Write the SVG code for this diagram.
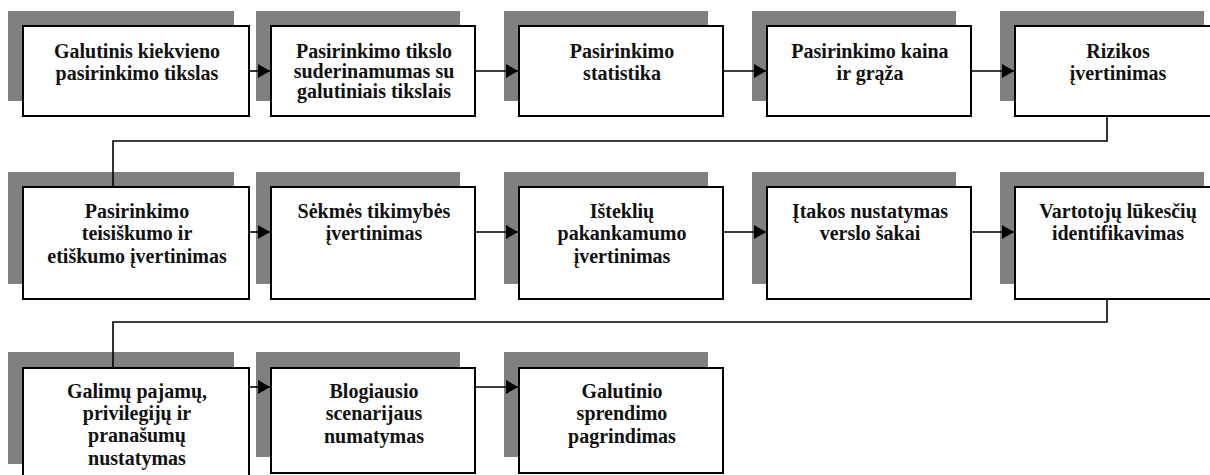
<svg xmlns="http://www.w3.org/2000/svg" width="1210" height="475" viewBox="0 0 1210 475">
  <style>
    .shadow { fill: #808080; }
    .box { fill: #ffffff; stroke: #000000; stroke-width: 2; }
    .lbl { font-family: 'Liberation Serif', 'Times New Roman', serif; font-weight: bold; font-size: 20px; fill: #111111; text-anchor: middle; }
    .link { fill: none; stroke: #000000; stroke-width: 1.6; }
  </style>
  <defs>
    <marker id="arrow" viewBox="0 0 12 14" refX="12" refY="7" markerWidth="12" markerHeight="14" markerUnits="userSpaceOnUse" orient="auto">
      <path d="M0,0 L12,7 L0,14 Z" fill="#000000"/>
    </marker>
  </defs>

  <rect width="1210" height="475" fill="#ffffff"/>

  <!-- Row 1 -->
  <g id="n1">
    <rect class="shadow" x="8" y="11" width="226" height="90"/>
    <rect class="box" x="23" y="26" width="226" height="90"/>
    <text class="lbl" x="137" y="58">Galutinis kiekvieno</text>
    <text class="lbl" x="137" y="80">pasirinkimo tikslas</text>
  </g>
  <g id="n2">
    <rect class="shadow" x="256" y="11" width="204" height="90"/>
    <rect class="box" x="271" y="26" width="204" height="90"/>
    <text class="lbl" x="374" y="58">Pasirinkimo tikslo</text>
    <text class="lbl" x="374" y="78">suderinamumas su</text>
    <text class="lbl" x="374" y="98">galutiniais tikslais</text>
  </g>
  <g id="n3">
    <rect class="shadow" x="504" y="11" width="204" height="90"/>
    <rect class="box" x="519" y="26" width="204" height="90"/>
    <text class="lbl" x="622" y="58">Pasirinkimo</text>
    <text class="lbl" x="622" y="80">statistika</text>
  </g>
  <g id="n4">
    <rect class="shadow" x="752" y="11" width="204" height="90"/>
    <rect class="box" x="767" y="26" width="204" height="90"/>
    <text class="lbl" x="870" y="58">Pasirinkimo kaina</text>
    <text class="lbl" x="870" y="80">ir grąža</text>
  </g>
  <g id="n5">
    <rect class="shadow" x="1000" y="11" width="204" height="90"/>
    <rect class="box" x="1015" y="26" width="204" height="90"/>
    <text class="lbl" x="1118" y="58">Rizikos</text>
    <text class="lbl" x="1118" y="80">įvertinimas</text>
  </g>

  <!-- Row 2 -->
  <g id="n6">
    <rect class="shadow" x="8" y="172" width="226" height="112"/>
    <rect class="box" x="23" y="187" width="226" height="112"/>
    <text class="lbl" x="137" y="218">Pasirinkimo</text>
    <text class="lbl" x="137" y="240">teisiškumo ir</text>
    <text class="lbl" x="137" y="263">etiškumo įvertinimas</text>
  </g>
  <g id="n7">
    <rect class="shadow" x="256" y="172" width="204" height="112"/>
    <rect class="box" x="271" y="187" width="204" height="112"/>
    <text class="lbl" x="374" y="218">Sėkmės tikimybės</text>
    <text class="lbl" x="374" y="240">įvertinimas</text>
  </g>
  <g id="n8">
    <rect class="shadow" x="504" y="172" width="204" height="112"/>
    <rect class="box" x="519" y="187" width="204" height="112"/>
    <text class="lbl" x="622" y="218">Išteklių</text>
    <text class="lbl" x="622" y="240">pakankamumo</text>
    <text class="lbl" x="622" y="263">įvertinimas</text>
  </g>
  <g id="n9">
    <rect class="shadow" x="752" y="172" width="204" height="112"/>
    <rect class="box" x="767" y="187" width="204" height="112"/>
    <text class="lbl" x="870" y="218">Įtakos nustatymas</text>
    <text class="lbl" x="870" y="240">verslo šakai</text>
  </g>
  <g id="n10">
    <rect class="shadow" x="1000" y="172" width="204" height="112"/>
    <rect class="box" x="1015" y="187" width="204" height="112"/>
    <text class="lbl" x="1118" y="218">Vartotojų lūkesčių</text>
    <text class="lbl" x="1118" y="240">identifikavimas</text>
  </g>

  <!-- Row 3 -->
  <g id="n11">
    <rect class="shadow" x="8" y="352" width="226" height="112"/>
    <rect class="box" x="23" y="368" width="226" height="112"/>
    <text class="lbl" x="137" y="398">Galimų pajamų,</text>
    <text class="lbl" x="137" y="420">privilegijų ir</text>
    <text class="lbl" x="137" y="442">pranašumų</text>
    <text class="lbl" x="137" y="465">nustatymas</text>
  </g>
  <g id="n12">
    <rect class="shadow" x="256" y="352" width="204" height="105"/>
    <rect class="box" x="271" y="368" width="204" height="105"/>
    <text class="lbl" x="374" y="398">Blogiausio</text>
    <text class="lbl" x="374" y="420">scenarijaus</text>
    <text class="lbl" x="374" y="443">numatymas</text>
  </g>
  <g id="n13">
    <rect class="shadow" x="504" y="352" width="204" height="105"/>
    <rect class="box" x="519" y="368" width="204" height="105"/>
    <text class="lbl" x="622" y="398">Galutinio</text>
    <text class="lbl" x="622" y="420">sprendimo</text>
    <text class="lbl" x="622" y="443">pagrindimas</text>
  </g>

  <!-- Connectors -->
  <g id="connectors">
    <path class="link" d="M249,71 H270" marker-end="url(#arrow)"/>
    <path class="link" d="M475,71 H518" marker-end="url(#arrow)"/>
    <path class="link" d="M723,71 H766" marker-end="url(#arrow)"/>
    <path class="link" d="M971,71 H1014" marker-end="url(#arrow)"/>
    <path class="link" d="M1107,116 V141 H113 V187"/>
    <path class="link" d="M249,232 H270" marker-end="url(#arrow)"/>
    <path class="link" d="M475,232 H518" marker-end="url(#arrow)"/>
    <path class="link" d="M723,232 H766" marker-end="url(#arrow)"/>
    <path class="link" d="M971,232 H1014" marker-end="url(#arrow)"/>
    <path class="link" d="M1107,299 V322 H113 V368"/>
    <path class="link" d="M249,387 H270" marker-end="url(#arrow)"/>
    <path class="link" d="M475,387 H518" marker-end="url(#arrow)"/>
  </g>
</svg>
